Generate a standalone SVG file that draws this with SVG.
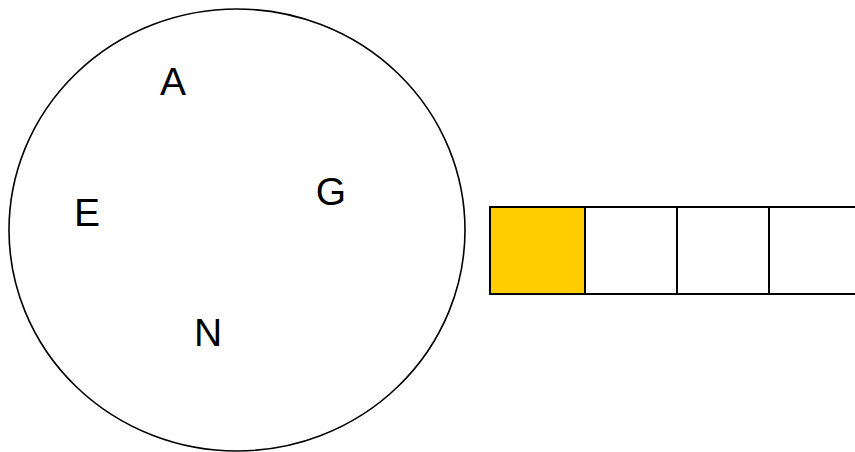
<svg xmlns="http://www.w3.org/2000/svg" width="855" height="452" viewBox="0 0 855 452">
<style>
.lbl{font-family:"Liberation Sans",Arial,sans-serif;font-size:39px;fill:#000;text-anchor:middle}
.cell{stroke:#000;stroke-width:2;fill:#fff}
</style>
<rect width="855" height="452" fill="#fff"/>
<g id="set">
<ellipse cx="237" cy="230" rx="228" ry="221" fill="none" stroke="#000" stroke-width="1.6"/>
<text class="lbl" x="173" y="95">A</text>
<text class="lbl" x="87" y="226">E</text>
<text class="lbl" x="331" y="205">G</text>
<text class="lbl" x="208" y="346">N</text>
</g>
<g id="array">
<rect class="cell" x="490" y="207" width="95" height="87" style="fill:#FFCC00"/>
<rect class="cell" x="585" y="207" width="92" height="87"/>
<rect class="cell" x="677" y="207" width="92" height="87"/>
<rect class="cell" x="769" y="207" width="92" height="87"/>
</g>
<g id="connectors"></g>
</svg>
